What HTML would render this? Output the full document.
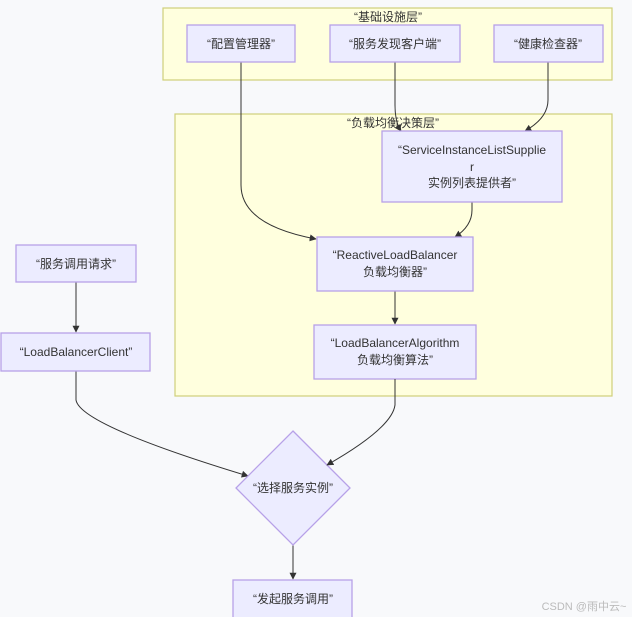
<!DOCTYPE html>
<html><head><meta charset="utf-8"><style>
html,body{margin:0;padding:0;background:#f8f9fb;}
svg{display:block;}
text{font-family:"Liberation Sans","Noto Sans CJK SC",sans-serif;font-size:12px;fill:#333;text-anchor:middle;}
.n{fill:#ececff;stroke:#b7a1e8;stroke-width:1.3;}
.g{fill:#ffffde;stroke:#cfcf7a;stroke-width:1.2;}
.e{fill:none;stroke:#333;stroke-width:1;}
</style></head><body>
<svg width="632" height="617" viewBox="0 0 632 617" xmlns="http://www.w3.org/2000/svg">
<defs><marker id="a" viewBox="0 0 10 10" refX="9" refY="5" markerWidth="7" markerHeight="7" orient="auto"><path d="M0,0L10,5L0,10z" fill="#333"/></marker></defs>
<rect class="g" x="163" y="8" width="449" height="72"/>
<text x="388" y="21">“基础设施层”</text>
<rect class="g" x="175" y="114" width="437" height="282"/>
<text x="393" y="127">“负载均衡决策层”</text>

<path class="e" d="M241,62 L241,185 Q241,225 316,239" marker-end="url(#a)"/>
<path class="e" d="M395,62 L395,105 Q395,122 401,131" marker-end="url(#a)"/>
<path class="e" d="M548,62 L548,100 Q548,118 525,131" marker-end="url(#a)"/>
<path class="e" d="M472,202 L472,210 Q472,226 455,237" marker-end="url(#a)"/>
<path class="e" d="M395,291 L395,324" marker-end="url(#a)"/>
<path class="e" d="M76,282 L76,332" marker-end="url(#a)"/>
<path class="e" d="M76,371 L76,400 Q80,425 248,476" marker-end="url(#a)"/>
<path class="e" d="M293,545 L293,579" marker-end="url(#a)"/>

<rect class="n" x="187" y="25" width="108" height="37"/>
<text x="241" y="48">“配置管理器”</text>
<rect class="n" x="330" y="25" width="130" height="37"/>
<text x="395" y="48">“服务发现客户端”</text>
<rect class="n" x="494" y="25" width="109" height="37"/>
<text x="548" y="48">“健康检查器”</text>
<rect class="n" x="382" y="131" width="180" height="71"/>
<text x="472" y="154">“ServiceInstanceListSupplie</text>
<text x="472" y="171">r</text>
<text x="472" y="187">实例列表提供者”</text>
<rect class="n" x="317" y="237" width="156" height="54"/>
<text x="395" y="259">“ReactiveLoadBalancer</text>
<text x="395" y="276">负载均衡器”</text>
<rect class="n" x="314" y="325" width="162" height="54"/>
<text x="395" y="347">“LoadBalancerAlgorithm</text>
<text x="395" y="364">负载均衡算法”</text>
<rect class="n" x="16" y="245" width="120" height="37"/>
<text x="76" y="268">“服务调用请求”</text>
<rect class="n" x="1" y="333" width="149" height="38"/>
<text x="76" y="356">“LoadBalancerClient”</text>
<path class="n" d="M293,431 L350,488 L293,545 L236,488 Z"/>
<path class="e" d="M395,379 L395,405 Q392,428 327,465" marker-end="url(#a)"/>
<text x="293" y="492">“选择服务实例”</text>
<rect class="n" x="233" y="580" width="119" height="40"/>
<text x="293" y="603">“发起服务调用”</text>
<text x="584" y="610" style="fill:#bbb;font-size:11px">CSDN @雨中云~</text>
</svg>
</body></html>
